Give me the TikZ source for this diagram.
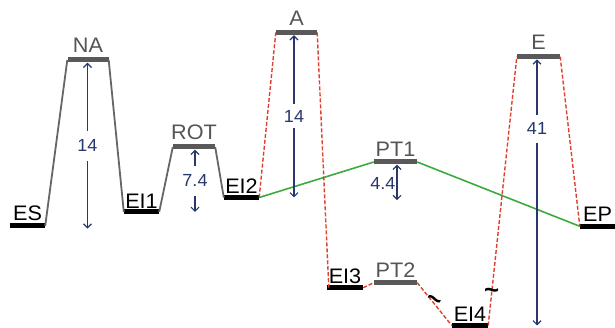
\documentclass[tikz,border=0pt]{standalone}
\usepackage{fontspec}
\setmainfont{Liberation Sans}[FakeStretch=1.03]
\usetikzlibrary{arrows.meta}
\definecolor{barg}{HTML}{595959}
\definecolor{lineg}{HTML}{666666}
\definecolor{txtg}{HTML}{555555}
\definecolor{redd}{HTML}{E0402E}
\definecolor{grn}{HTML}{3DAA3D}
\definecolor{navy}{HTML}{28386C}
\begin{document}
\begin{tikzpicture}[x=1pt,y=1pt,
  lvl/.style={rectangle, inner sep=0pt, minimum height=5pt, draw=none},
  blk/.style={lvl, fill=black},
  gry/.style={lvl, fill=barg},
  lblk/.style={font=\fontsize{21}{21}\selectfont, inner sep=0pt, text=black},
  lgry/.style={font=\fontsize{21}{21}\selectfont, inner sep=0pt, text=txtg},
  label distance=2pt,
  conn/.style={lineg, line width=1.8pt},
  rdash/.style={redd, line width=1.4pt, dash pattern=on 4pt off 2pt},
  grnl/.style={grn, line width=1.6pt},
  dimarr/.style={navy, line width=1.2pt, {Straight Barb[length=4pt,width=8pt]}-{Straight Barb[length=4pt,width=8pt]}},
  num/.style={font=\fontsize{17.5}{17.5}\selectfont, text=navy, fill=white, inner xsep=1pt},
  tild/.style={font=\fontsize{25}{25}\selectfont\bfseries, text=black, inner sep=0pt}]
\useasboundingbox (0,0) rectangle (615,328);
% levels
\node[blk, minimum width=35pt, label={[lblk]above:ES}]  (ES)  at (27.5,102) {};
\node[gry, minimum width=41pt, label={[lgry,label distance=5pt]above:NA}]  (NA)  at (88,268) {};
\node[blk, minimum width=35pt, label={[lblk,label distance=1pt]above:EI1}] (EI1) at (141.5,116) {};
\node[gry, minimum width=42pt, label={[lgry,label distance=4pt]above:ROT}] (ROT) at (194,181) {};
\node[blk, minimum width=35pt, label={[lblk,label distance=1pt]above:EI2}] (EI2) at (241.5,130.5) {};
\node[gry, minimum width=41pt, label={[lgry,label distance=4pt]above:A}]   (A)   at (296.5,295.5) {};
\node[gry, minimum width=43pt, label={[lgry,label distance=3pt]above:PT1}] (PT1) at (395.5,166) {};
\node[blk, minimum width=36pt, label={[lblk,label distance=1pt]above:EI3}] (EI3) at (345,40.3) {};
\node[gry, minimum width=43pt, label={[lgry,label distance=2pt]above:PT2}] (PT2) at (395.5,45.3) {};
\node[blk, minimum width=36pt, label={[lblk,label distance=1pt]above:EI4}] (EI4) at (470,2.5) {};
\node[gry, minimum width=43pt, label={[lgry,label distance=4pt]above:E}]   (E)   at (538.5,271.3) {};
\node[blk, minimum width=35pt, label={[lblk]above:EP}]  (EP)  at (597.5,101.7) {};
% connectors
\draw[conn] (ES.east) -- (NA.west);
\draw[conn] (NA.east) -- (EI1.west);
\draw[conn] (EI1.east) -- (ROT.west);
\draw[conn] (ROT.east) -- (EI2.west);
\draw[grnl] (EI2.east) -- (PT1.west);
\draw[grnl] (PT1.east) -- (EP.west);
\draw[rdash] (EI2.east) -- (A.west);
\draw[rdash] (A.east) -- ([xshift=2pt]EI3.west);
\draw[rdash] (EI3.east) -- (PT2.west);
\draw[rdash] (PT2.east) -- node[tild, pos=0.46, rotate=-25]{\textasciitilde} (EI4.west);
\draw[rdash] (EI4.east) -- node[tild, pos=0.12]{\textasciitilde} (E.west);
\draw[rdash] (E.east) -- (EP.west);
% dimension arrows
\draw[dimarr] ([xshift=-0.5pt]NA.south) -- node[num, inner ysep=9pt]{14} ([xshift=-0.5pt]NA.south |- ES.south);
\draw[dimarr] ([xshift=1pt]ROT.south) -- node[num, inner ysep=9pt]{7.4} ([xshift=1pt]ROT.south |- EI1.center);
\draw[dimarr] ([xshift=-2.5pt]A.south) -- node[num, inner ysep=6pt]{14} ([xshift=-2.5pt]A.south |- EI2.center);
\draw[dimarr] ([xshift=1.5pt]PT1.south) -- node[num, fill=none, left, inner sep=1pt, yshift=-1pt]{4.4} ([xshift=1.5pt]PT1.south |- EI2.south);
\draw[dimarr] ([xshift=-1.5pt]E.south) -- node[num, inner ysep=8pt, pos=0.26]{41} ([xshift=-1.5pt]E.south |- EI4.center);
\end{tikzpicture}
\end{document}
